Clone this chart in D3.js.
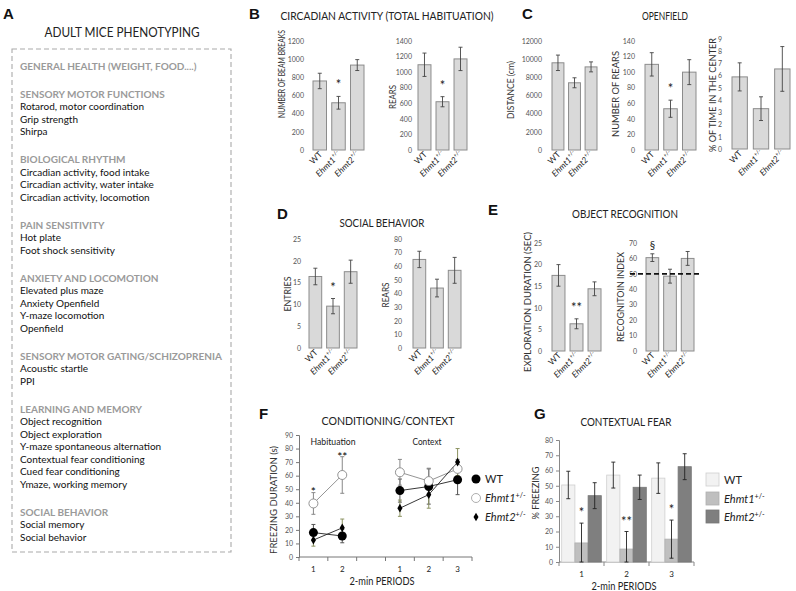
<html>
<head>
<meta charset="UTF-8">
<title>Adult mice phenotyping</title>
<script src="https://cdnjs.cloudflare.com/ajax/libs/d3/7.8.5/d3.min.js"></script>
<style>
  body { margin: 0; background: #fff; }
  svg text { font-family: Lato, "Open Sans", sans-serif; }
</style>
</head>
<body>
<svg id="fig" width="796" height="591"></svg>
<script>
// ---- data ----
var genotypes = ["WT", "Ehmt1", "Ehmt2"];

var beamBreaks = [760, 520, 935], beamBreaksSem = [85, 70, 60];
var circRears = [1095, 620, 1170], circRearsSem = [150, 65, 150];
var distance = [9600, 7400, 9150], distanceSem = [850, 550, 550];
var ofRears = [110, 53, 100], ofRearsSem = [15, 11, 16];
var timeCenter = [5.9, 3.3, 6.55], timeCenterSem = [1.15, 0.97, 1.83];
var entries = [16.4, 9.6, 17.5], entriesSem = [1.9, 1.75, 2.65];
var socRears = [65, 44, 57], socRearsSem = [6, 6.5, 9.5];
var exploration = [17.5, 6.3, 14.4], explorationSem = [2.5, 1.15, 1.6];
var recogIndex = [60.5, 48.5, 60], recogIndexSem = [2.5, 4.5, 4.5];

// conditioning / context (F): habituation 1-2, gap, context 1-3
var fSlots = ["h1", "h2", "gap", "c1", "c2", "c3"];
var fLabels = ["1", "2", "", "1", "2", "3"];
var wtFreeze = [18, 15.5, null, 49, 52, 57], wtFreezeSem = [6, 5, null, 8.5, 13, 11];
var ehmt1Freeze = [39.5, 60.5, null, 62.5, 56, 65], ehmt1FreezeSem = [8, 13.5, null, 9.5, 9.5, 7];
var ehmt2Freeze = [12.5, 21.5, null, 36, 46, 70], ehmt2FreezeSem = [4.5, 6.5, null, 6, 10, 10];

// contextual fear (G)
var periods = ["1", "2", "3"];
var wtFear = [50.5, 57, 55], wtFearSem = [9, 8.5, 10];
var ehmt1Fear = [12.5, 8.5, 15], ehmt1FearSem = [13, 11.5, 12.5];
var ehmt2Fear = [43.5, 49, 62.5], ehmt2FearSem = [8.5, 8, 8.5];

var phenoSections = [
  { head: "GENERAL HEALTH (WEIGHT, FOOD....)", items: [] },
  { head: "SENSORY MOTOR FUNCTIONS", items: ["Rotarod, motor coordination", "Grip strength", "Shirpa"] },
  { head: "BIOLOGICAL RHYTHM", items: ["Circadian activity, food intake", "Circadian activity, water intake", "Circadian activity, locomotion"] },
  { head: "PAIN SENSITIVITY", items: ["Hot plate", "Foot shock sensitivity"] },
  { head: "ANXIETY AND LOCOMOTION", items: ["Elevated plus maze", "Anxiety Openfield", "Y-maze locomotion", "Openfield"] },
  { head: "SENSORY MOTOR GATING/SCHIZOPRENIA", items: ["Acoustic startle", "PPI"] },
  { head: "LEARNING AND MEMORY", items: ["Object recognition", "Object exploration", "Y-maze spontaneous alternation", "Contextual fear conditioning", "Cued fear conditioning", "Ymaze, working memory"] },
  { head: "SOCIAL BEHAVIOR", items: ["Social memory", "Social behavior"] }
];

var svg = d3.select("#fig");
svg.append("rect").attr("width", 796).attr("height", 591).attr("fill", "#fff");

function letter(t, x, y) {
  svg.append("text").attr("x", x).attr("y", y).text(t)
    .style("font-family", "'Liberation Sans', Arial, sans-serif")
    .attr("font-weight", "bold").attr("font-size", 15).attr("fill", "#111");
}
function title(t, x, y, len) {
  svg.append("text").attr("x", x).attr("y", y).attr("text-anchor", "middle")
    .attr("font-size", 11).attr("fill", "#222")
    .attr("textLength", len).attr("lengthAdjust", "spacingAndGlyphs").text(t);
}
function genoLabel(sel, d) {
  if (d === "WT") { sel.text("WT"); return; }
  sel.append("tspan").attr("font-style", "italic").text(d);
  sel.append("tspan").attr("font-size", "0.65em").attr("dy", -4).text("+/-");
}
function vLabel(t, x, y, len, size) {
  svg.append("text").attr("transform", `translate(${x},${y}) rotate(-90)`)
    .attr("text-anchor", "middle").attr("dominant-baseline", "central")
    .attr("font-size", size || 10).attr("fill", "#333")
    .attr("textLength", len).attr("lengthAdjust", "spacingAndGlyphs").text(t);
}
var fmt = d3.format("d");

// ---- panel A ----
letter("A", 3, 19);
svg.append("text").attr("x", 122).attr("y", 37).attr("text-anchor", "middle")
  .attr("font-size", 12.5).attr("fill", "#222")
  .attr("textLength", 155).attr("lengthAdjust", "spacingAndGlyphs").text("ADULT MICE PHENOTYPING");
svg.append("rect").attr("x", 12).attr("y", 49).attr("width", 219).attr("height", 503)
  .attr("fill", "none").attr("stroke", "#aaa").attr("stroke-width", 1.1).attr("stroke-dasharray", "5,3");
var yy = 66;
phenoSections.forEach(s => {
  svg.append("text").attr("x", 20).attr("y", yy + 3.5).attr("font-size", 10)
    .attr("font-weight", "bold").attr("fill", "#9a9a9a").text(s.head);
  s.items.forEach(it => {
    yy += 12.5;
    svg.append("text").attr("x", 20).attr("y", yy + 3.5).attr("font-size", 10)
      .attr("fill", "#111").text(it);
  });
  yy += 28;
});

// ---- bar panels B-E ----
function barPanel(p) {
  var x = d3.scaleBand().domain(genotypes).range([p.x0, p.x1]).paddingInner(0.28);
  var y = d3.scaleLinear().domain([0, p.max]).range([p.y0, p.y1]);
  var g = svg.append("g");
  var ax = g.append("g").attr("transform", `translate(${p.tx},0)`)
    .call(d3.axisLeft(y).tickValues(d3.range(0, p.max + p.step / 2, p.step)).tickFormat(fmt).tickSize(0).tickPadding(0));
  ax.select(".domain").remove();
  ax.attr("font-family", null).attr("font-size", 7).selectAll("text").attr("fill", "#555");

  g.selectAll("rect.bar").data(p.values).join("rect").attr("class", "bar")
    .attr("x", (d, i) => x(genotypes[i])).attr("width", x.bandwidth())
    .attr("y", d => y(d)).attr("height", d => y(0) - y(d))
    .attr("fill", "#d9d9d9").attr("stroke", "#8c8c8c").attr("stroke-width", 1);

  var eb = g.selectAll("g.err").data(p.values).join("g").attr("class", "err")
    .attr("stroke", "#444").attr("stroke-width", 0.9);
  eb.append("line").attr("x1", (d, i) => x(genotypes[i]) + x.bandwidth() / 2)
    .attr("x2", (d, i) => x(genotypes[i]) + x.bandwidth() / 2)
    .attr("y1", (d, i) => y(d - p.sem[i])).attr("y2", (d, i) => y(d + p.sem[i]));
  [-1, 1].forEach(s => {
    eb.append("line").attr("x1", (d, i) => x(genotypes[i]) + x.bandwidth() / 2 - 2)
      .attr("x2", (d, i) => x(genotypes[i]) + x.bandwidth() / 2 + 2)
      .attr("y1", (d, i) => y(d + s * p.sem[i])).attr("y2", (d, i) => y(d + s * p.sem[i]));
  });

  genotypes.forEach(gt => {
    var cx = x(gt) + x.bandwidth() / 2 + 3;
    var t = g.append("text").attr("transform", `translate(${cx},${p.y0 + 5}) rotate(-45)`)
      .attr("text-anchor", "end").attr("font-size", 8.5).attr("fill", "#222");
    genoLabel(t, gt);
  });

  (p.sig || []).forEach(s => {
    var i = genotypes.indexOf(s.g);
    g.append("text").attr("x", x(s.g) + x.bandwidth() / 2)
      .attr("y", y(p.values[i] + p.sem[i]) - (s.dy || 7))
      .attr("text-anchor", "middle").attr("font-size", s.size || 13).attr("fill", "#222").text(s.t);
  });
  if (p.ref != null) {
    g.append("line").attr("x1", p.refX0).attr("x2", p.refX1).attr("y1", y(p.ref)).attr("y2", y(p.ref))
      .attr("stroke", "#111").attr("stroke-width", 1.6).attr("stroke-dasharray", "5,3");
  }
  vLabel(p.label, p.lx, p.ly, p.len, p.lsize);
}

letter("B", 249, 19);
title("CIRCADIAN ACTIVITY (TOTAL HABITUATION)", 387, 20, 213);
barPanel({ values: beamBreaks, sem: beamBreaksSem, max: 1200, step: 200, x0: 313, x1: 364, y0: 150, y1: 41, tx: 304,
  label: "NUMBER OF BEAM BREAKS", lx: 282, ly: 74, len: 88, lsize: 8.5, sig: [{ g: "Ehmt1", t: "*" }] });
barPanel({ values: circRears, sem: circRearsSem, max: 1400, step: 200, x0: 418, x1: 467, y0: 150, y1: 41, tx: 412,
  label: "REARS", lx: 392, ly: 97, len: 24, lsize: 9, sig: [{ g: "Ehmt1", t: "*" }] });

letter("C", 522, 19);
title("OPENFIELD", 665, 20, 46);
barPanel({ values: distance, sem: distanceSem, max: 12000, step: 2000, x0: 552, x1: 597, y0: 150, y1: 41, tx: 542,
  label: "DISTANCE (cm)", lx: 510, ly: 90, len: 58, lsize: 9.5 });
barPanel({ values: ofRears, sem: ofRearsSem, max: 140, step: 20, x0: 645, x1: 696, y0: 150, y1: 41, tx: 635,
  label: "NUMBER OF REARS", lx: 615, ly: 94, len: 86, sig: [{ g: "Ehmt1", t: "*" }] });
barPanel({ values: timeCenter, sem: timeCenterSem, max: 9, step: 1, x0: 732, x1: 790, y0: 149, y1: 39, tx: 722,
  label: "% OF TIME IN THE CENTER", lx: 712, ly: 95, len: 114 });

letter("D", 277, 219);
title("SOCIAL BEHAVIOR", 382, 227, 85);
barPanel({ values: entries, sem: entriesSem, max: 25, step: 5, x0: 309, x1: 357, y0: 348, y1: 239, tx: 301,
  label: "ENTRIES", lx: 287, ly: 294, len: 35, sig: [{ g: "Ehmt1", t: "*" }] });
barPanel({ values: socRears, sem: socRearsSem, max: 80, step: 10, x0: 413, x1: 461, y0: 348, y1: 239, tx: 402,
  label: "REARS", lx: 385, ly: 295, len: 25 });

letter("E", 488, 215);
title("OBJECT RECOGNITION", 625, 218, 106);
barPanel({ values: exploration, sem: explorationSem, max: 25, step: 5, x0: 552, x1: 601, y0: 351, y1: 243, tx: 542,
  label: "EXPLORATION DURATION (SEC)", lx: 527, ly: 302, len: 140, sig: [{ g: "Ehmt1", t: "**" }] });
barPanel({ values: recogIndex, sem: recogIndexSem, max: 70, step: 10, x0: 646, x1: 694, y0: 351, y1: 243, tx: 637,
  label: "RECOGNITOIN INDEX", lx: 620, ly: 297, len: 90, sig: [{ g: "WT", t: "§", size: 11, dy: 5 }],
  ref: 50, refX0: 630, refX1: 699 });

// ---- panel F ----
letter("F", 259, 419);
title("CONDITIONING/CONTEXT", 388, 425, 133);
(function () {
  var x = d3.scaleBand().domain(fSlots).range([299, 472]);
  var y = d3.scaleLinear().domain([0, 90]).range([557, 435]);
  var g = svg.append("g");
  var ya = g.append("g").attr("transform", "translate(299,0)")
    .call(d3.axisLeft(y).tickValues(d3.range(0, 91, 10)).tickSize(3).tickPadding(3));
  ya.attr("font-family", null).attr("font-size", 7);
  ya.selectAll("text").attr("fill", "#555");
  ya.selectAll("line,path").attr("stroke", "#777");
  var xa = g.append("g").attr("transform", "translate(0,557)");
  xa.append("line").attr("x1", 299).attr("x2", 472).attr("stroke", "#777");
  xa.selectAll("line.tk").data(fSlots.concat(["end"])).join("line").attr("class", "tk")
    .attr("x1", (d, i) => i < fSlots.length ? x(d) : 472).attr("x2", (d, i) => i < fSlots.length ? x(d) : 472)
    .attr("y1", 0).attr("y2", 4).attr("stroke", "#777");
  xa.selectAll("text").data(fSlots).join("text")
    .attr("x", d => x(d) + x.bandwidth() / 2).attr("y", 15).attr("text-anchor", "middle")
    .attr("font-size", 8).attr("fill", "#222").text((d, i) => fLabels[i]);

  g.append("text").attr("x", 333).attr("y", 445).attr("text-anchor", "middle").attr("font-size", 9).attr("fill", "#222")
    .attr("textLength", 45).attr("lengthAdjust", "spacingAndGlyphs").text("Habituation");
  g.append("text").attr("x", 427).attr("y", 445).attr("text-anchor", "middle").attr("font-size", 9).attr("fill", "#222")
    .attr("textLength", 29).attr("lengthAdjust", "spacingAndGlyphs").text("Context");

  var cx = d => x(d) + x.bandwidth() / 2;
  var series = [
    { v: wtFreeze, s: wtFreezeSem, line: "#222", err: "#555", kind: "filled" },
    { v: ehmt1Freeze, s: ehmt1FreezeSem, line: "#888", err: "#888", kind: "open" },
    { v: ehmt2Freeze, s: ehmt2FreezeSem, line: "#222", err: "#8b9260", kind: "diamond" }
  ];
  var line = d3.line().defined(d => d.v != null).x(d => cx(d.k)).y(d => y(d.v));
  series.forEach(sr => {
    var pts = fSlots.map((k, i) => ({ k: k, v: sr.v[i], e: sr.s[i] }));
    g.append("path").datum(pts).attr("d", line).attr("fill", "none")
      .attr("stroke", sr.line).attr("stroke-width", 0.9);
    pts.filter(d => d.v != null).forEach(d => {
      g.append("line").attr("x1", cx(d.k)).attr("x2", cx(d.k)).attr("y1", y(d.v - d.e)).attr("y2", y(d.v + d.e))
        .attr("stroke", sr.err).attr("stroke-width", 1);
      [-1, 1].forEach(s => g.append("line").attr("x1", cx(d.k) - 2).attr("x2", cx(d.k) + 2)
        .attr("y1", y(d.v + s * d.e)).attr("y2", y(d.v + s * d.e)).attr("stroke", sr.err).attr("stroke-width", 1));
    });
  });
  series.forEach(sr => {
    fSlots.forEach((k, i) => {
      if (sr.v[i] == null) return;
      if (sr.kind === "filled") g.append("circle").attr("cx", cx(k)).attr("cy", y(sr.v[i])).attr("r", 4.5).attr("fill", "#000");
      else if (sr.kind === "open") g.append("circle").attr("cx", cx(k)).attr("cy", y(sr.v[i])).attr("r", 4.5).attr("fill", "#fff").attr("stroke", "#888").attr("stroke-width", 0.9);
      else g.append("path").attr("d", d3.symbol(d3.symbolDiamond, 22)()).attr("transform", `translate(${cx(k)},${y(sr.v[i])})`).attr("fill", "#000");
    });
  });
  g.append("text").attr("x", cx("h1")).attr("y", y(ehmt1Freeze[0] + ehmt1FreezeSem[0]) + 3).attr("text-anchor", "middle").attr("font-size", 12).text("*");
  g.append("text").attr("x", cx("h2")).attr("y", y(ehmt1Freeze[1] + ehmt1FreezeSem[1]) + 4).attr("text-anchor", "middle").attr("font-size", 12).text("**");

  svg.append("text").attr("x", 382).attr("y", 585).attr("text-anchor", "middle").attr("font-size", 10.5).attr("fill", "#222")
    .attr("textLength", 65).attr("lengthAdjust", "spacingAndGlyphs").text("2-min PERIODS");
  vLabel("FREEZING DURATION (s)", 273, 500, 108);

  // legend
  var lg = [["WT", "filled", 479], ["Ehmt1", "open", 498], ["Ehmt2", "diamond", 517]];
  lg.forEach(l => {
    if (l[1] === "filled") svg.append("circle").attr("cx", 476).attr("cy", l[2]).attr("r", 4.5).attr("fill", "#000");
    else if (l[1] === "open") svg.append("circle").attr("cx", 476).attr("cy", l[2]).attr("r", 4.5).attr("fill", "#fff").attr("stroke", "#999").attr("stroke-width", 0.8);
    else svg.append("path").attr("d", d3.symbol(d3.symbolDiamond, 22)()).attr("transform", `translate(476,${l[2]})`).attr("fill", "#000");
    var t = svg.append("text").attr("x", 485).attr("y", l[2] + 4).attr("font-size", 11).attr("fill", "#222");
    genoLabel(t, l[0]);
  });
})();

// ---- panel G ----
letter("G", 534, 419);
title("CONTEXTUAL FEAR", 626, 426, 91);
(function () {
  var x0 = d3.scaleBand().domain(periods).range([559, 694]).paddingInner(0.12).paddingOuter(0.06);
  var x1 = d3.scaleBand().domain(genotypes).range([0, x0.bandwidth()]);
  var y = d3.scaleLinear().domain([0, 80]).range([562, 440]);
  var colors = { WT: "#f2f2f2", Ehmt1: "#bfbfbf", Ehmt2: "#7f7f7f" };
  var strokes = { WT: "#cfcfcf", Ehmt1: "#b0b0b0", Ehmt2: "#777" };
  var vals = { WT: [wtFear, wtFearSem], Ehmt1: [ehmt1Fear, ehmt1FearSem], Ehmt2: [ehmt2Fear, ehmt2FearSem] };
  var g = svg.append("g");

  var ya = g.append("g").attr("transform", "translate(559,0)")
    .call(d3.axisLeft(y).tickValues(d3.range(0, 81, 10)).tickSize(3).tickPadding(3));
  ya.attr("font-family", null).attr("font-size", 7);
  ya.selectAll("text").attr("fill", "#555");
  ya.selectAll("line,path").attr("stroke", "#888");
  g.append("line").attr("x1", 559).attr("x2", 694).attr("y1", 562).attr("y2", 562).attr("stroke", "#888");
  [559, 604, 649, 694].forEach(xx => g.append("line").attr("x1", xx).attr("x2", xx).attr("y1", 562).attr("y2", 566).attr("stroke", "#888"));
  periods.forEach(p => g.append("text").attr("x", x0(p) + x0.bandwidth() / 2).attr("y", 577)
    .attr("text-anchor", "middle").attr("font-size", 8).attr("fill", "#222").text(p));

  periods.forEach((p, pi) => {
    genotypes.forEach(gt => {
      var v = vals[gt][0][pi], e = vals[gt][1][pi];
      var bx = x0(p) + x1(gt);
      g.append("rect").attr("x", bx).attr("width", x1.bandwidth()).attr("y", y(v)).attr("height", y(0) - y(v))
        .attr("fill", colors[gt]).attr("stroke", strokes[gt]).attr("stroke-width", 0.8);
      var c = bx + x1.bandwidth() / 2;
      var lo = Math.max(0, v - e), hi = v + e;
      g.append("line").attr("x1", c).attr("x2", c).attr("y1", y(lo)).attr("y2", y(hi)).attr("stroke", "#222").attr("stroke-width", 0.9);
      [lo, hi].forEach(vv => g.append("line").attr("x1", c - 2).attr("x2", c + 2).attr("y1", y(vv)).attr("y2", y(vv)).attr("stroke", "#222").attr("stroke-width", 0.9));
    });
  });
  var gSig = ["*", "**", "*"];
  periods.forEach((p, pi) => {
    g.append("text").attr("x", x0(p) + x1("Ehmt1") + x1.bandwidth() / 2)
      .attr("y", y(ehmt1Fear[pi] + ehmt1FearSem[pi]) - 6)
      .attr("text-anchor", "middle").attr("font-size", 13).attr("fill", "#222").text(gSig[pi]);
  });

  svg.append("text").attr("x", 624).attr("y", 590).attr("text-anchor", "middle").attr("font-size", 10.5).attr("fill", "#222")
    .attr("textLength", 65).attr("lengthAdjust", "spacingAndGlyphs").text("2-min PERIODS");
  vLabel("% FREEZING", 535, 493, 53);

  genotypes.forEach((gt, i) => {
    var ly = [473, 492, 510][i];
    svg.append("rect").attr("x", 706).attr("y", ly).attr("width", 13).attr("height", 13)
      .attr("fill", colors[gt]).attr("stroke", strokes[gt]).attr("stroke-width", 0.8);
    var t = svg.append("text").attr("x", 724).attr("y", ly + 10.5).attr("font-size", 11).attr("fill", "#222");
    genoLabel(t, gt);
  });
})();
</script>
</body>
</html>
